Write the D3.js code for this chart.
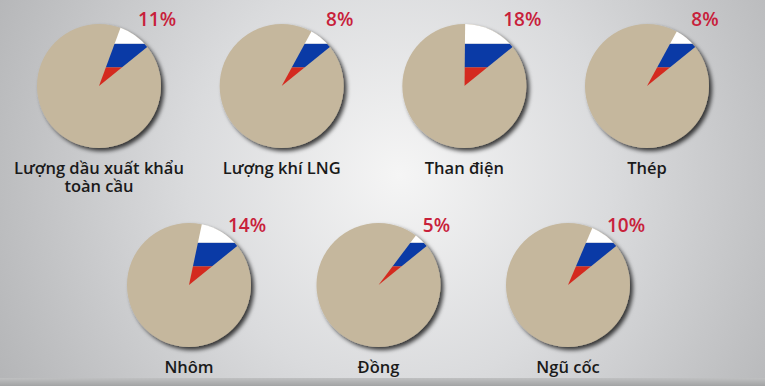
<!DOCTYPE html>
<html>
<head>
<meta charset="utf-8">
<script src="https://cdn.jsdelivr.net/npm/d3@7"></script>
<style>
  html, body { margin: 0; padding: 0; overflow: hidden; }
  svg { display: block; }
</style>
</head>
<body>
<div id="chart"></div>
<script>
(function() {
    var width = 765, height = 386;

    // data
    var labels = ["Lượng dầu xuất khẩu\ntoàn cầu", "Lượng khí LNG", "Than điện", "Thép",
                  "Nhôm", "Đồng", "Ngũ cốc"];
    var shares = [11, 8, 18, 8, 14, 5, 10];
    var rows = [[0, 1, 2, 3], [4, 5, 6]];

    var radius = 62;
    var tan = "#c5b79d";
    var flag = ["#ffffff", "#0a3aa6", "#d42a1f"];

    var svg = d3.select("#chart").append("svg")
                .attr("width", width)
                .attr("height", height);

    var defs = svg.append("defs");

    var bg = defs.append("radialGradient")
                 .attr("id", "bg")
                 .attr("gradientUnits", "userSpaceOnUse")
                 .attr("cx", 400).attr("cy", 175).attr("r", 470);
    bg.append("stop").attr("offset", "0%").attr("stop-color", "#f5f5f5");
    bg.append("stop").attr("offset", "45%").attr("stop-color", "#dadbdd");
    bg.append("stop").attr("offset", "100%").attr("stop-color", "#b1b2b4");

    var shadow = defs.append("filter")
                     .attr("id", "shadow")
                     .attr("x", "-20%").attr("y", "-20%")
                     .attr("width", "150%").attr("height", "150%");
    shadow.append("feDropShadow")
          .attr("dx", 3).attr("dy", 3)
          .attr("stdDeviation", 2.2)
          .attr("flood-color", "#000")
          .attr("flood-opacity", 0.75);

    var strip = defs.append("linearGradient")
                    .attr("id", "strip")
                    .attr("x1", 0).attr("y1", 0).attr("x2", 0).attr("y2", 1);
    strip.append("stop").attr("offset", "0%").attr("stop-color", "#bfc0c1");
    strip.append("stop").attr("offset", "100%").attr("stop-color", "#a2a3a4");

    svg.append("rect")
       .attr("width", width).attr("height", height)
       .attr("fill", "url(#bg)");
    // darker strip along the bottom edge
    svg.append("rect")
       .attr("y", 378).attr("width", width).attr("height", 8)
       .attr("fill", "url(#strip)");

    // wedge size, clockwise back from a fixed end angle
    var angle = d3.scaleLinear().domain([0, 100]).range([0, 279 * Math.PI / 180]);
    var endAngle = 51 * Math.PI / 180;
    var arc = d3.arc().innerRadius(0).outerRadius(radius);

    // flag stripes as fractions of the radius above the centre
    var stripe = d3.scaleLinear().domain([0, 1]).range([0, -radius]);
    var bands = [[1, 0.68], [0.68, 0.30], [0.30, 0]];

    var xRow = [
        d3.scalePoint().domain(rows[0]).range([99, 647]),
        d3.scalePoint().domain(rows[1]).range([189, 568])
    ];
    var rowY = [86, 285];
    var pctDy = [-60, -53];

    rows.forEach(function(row, r) {
        row.forEach(function(i) {
            var cx = xRow[r](i), cy = rowY[r];
            var g = svg.append("g")
                       .attr("transform", "translate(" + cx + "," + cy + ")");

            g.append("circle")
             .attr("r", radius)
             .attr("fill", tan)
             .attr("filter", "url(#shadow)");

            var wedge = {startAngle: endAngle - angle(shares[i]), endAngle: endAngle};
            defs.append("clipPath")
                .attr("id", "wedge" + i)
                .append("path")
                .attr("d", arc(wedge));

            var fl = g.append("g").attr("clip-path", "url(#wedge" + i + ")");
            bands.forEach(function(b, k) {
                fl.append("rect")
                  .attr("x", -radius)
                  .attr("y", stripe(b[0]))
                  .attr("width", radius * 2)
                  .attr("height", stripe(b[1]) - stripe(b[0]))
                  .attr("fill", flag[k]);
            });

            g.append("text")
             .attr("x", 58)
             .attr("y", pctDy[r])
             .attr("text-anchor", "middle")
             .attr("fill", "#c8203a")
             .style("font-family", "'Open Sans', sans-serif")
             .style("font-weight", 600)
             .style("font-size", "19px")
             .text(shares[i] + "%");

            var lines = labels[i].split("\n");
            var t = g.append("text")
                     .attr("text-anchor", "middle")
                     .attr("fill", "#1a1a1a")
                     .style("font-family", "'Open Sans', sans-serif")
                     .style("font-weight", 600)
                     .style("font-size", "16.5px");
            lines.forEach(function(line, k) {
                t.append("tspan")
                 .attr("x", 0)
                 .attr("y", 88 + k * 17.5)
                 .text(line);
            });
        });
    });
})();
</script>
</body>
</html>
